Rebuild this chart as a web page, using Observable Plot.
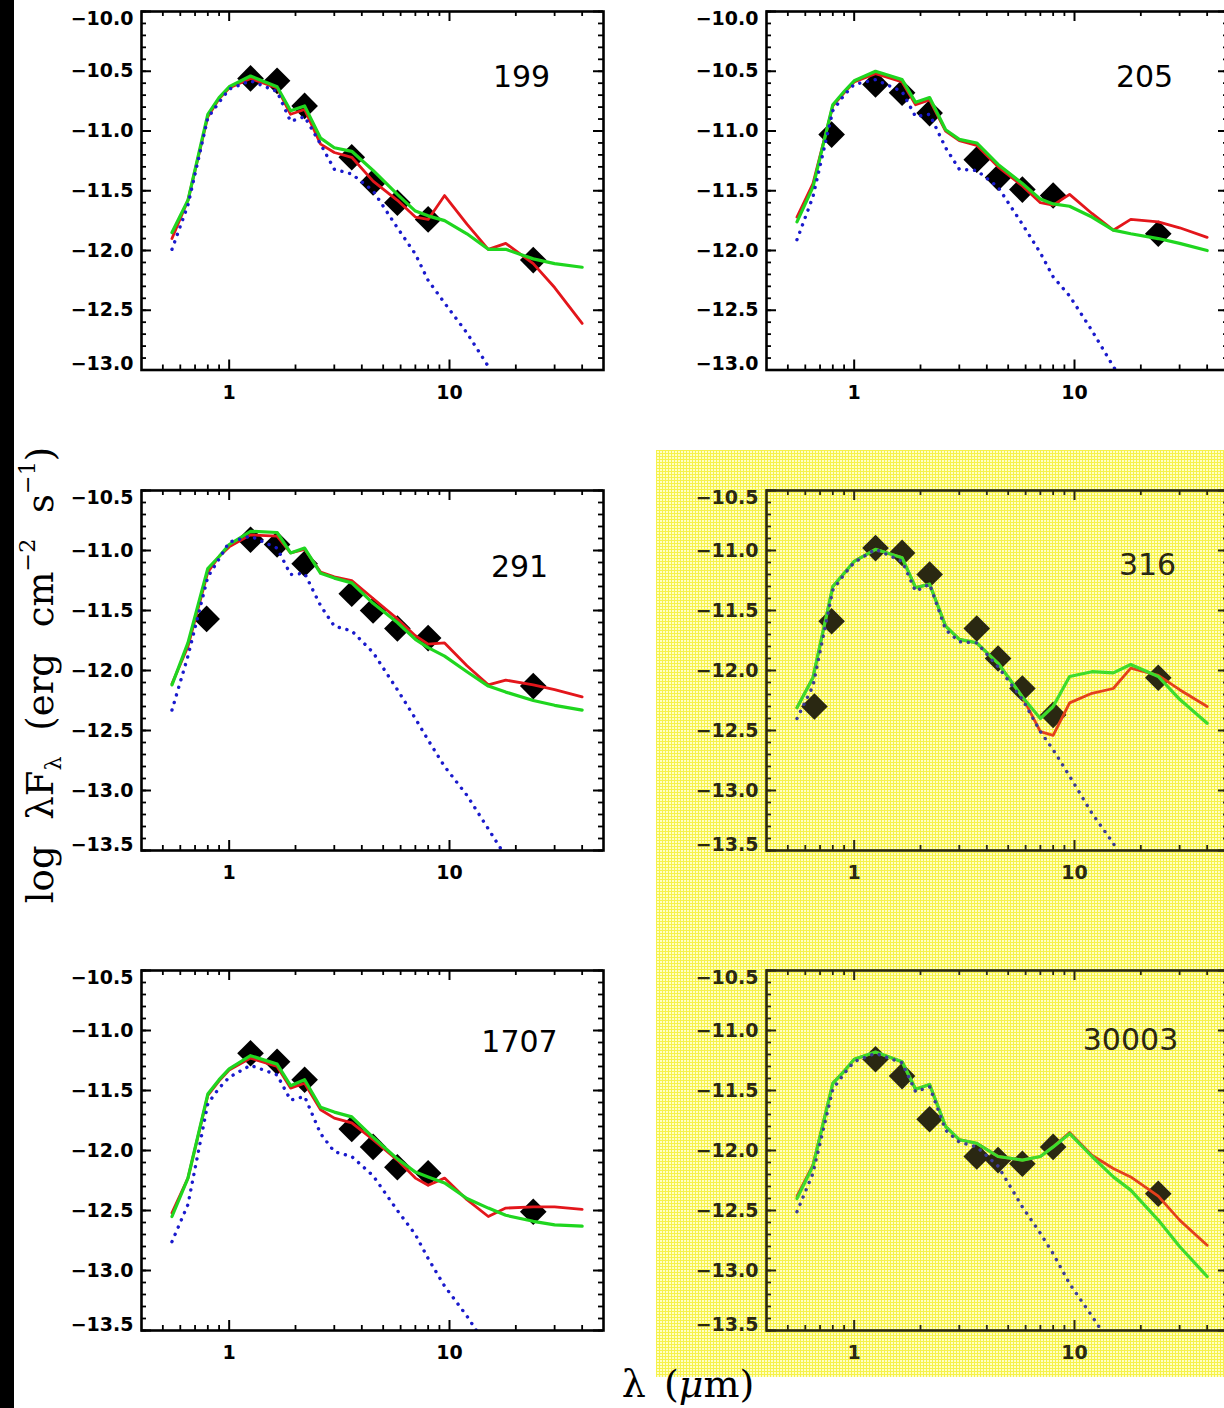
<!DOCTYPE html>
<html><head><meta charset="utf-8">
<script src="https://cdn.jsdelivr.net/npm/d3@7"></script>
<script src="https://cdn.jsdelivr.net/npm/@observablehq/plot@0.6"></script>
<style>
html,body{margin:0;padding:0;background:#fff;}
#fig{position:relative;width:1224px;height:1408px;overflow:hidden;background:#fff;}
.strip{position:absolute;left:0;top:0;width:14px;height:1408px;background:#000;}
.yellow{position:absolute;left:656px;top:450px;width:568px;height:927px;background-color:#ffffc4;
 background-image:linear-gradient(#f6f24a 1px,transparent 1px),linear-gradient(90deg,#f6f24a 1px,transparent 1px);
 background-size:3px 3px;}
.panel{position:absolute;}
.panel svg{max-width:none;display:block;}
.ytitle{position:absolute;left:40px;top:675px;transform:translate(-50%,-50%) rotate(-90deg);
 font-family:"DejaVu Serif",serif;font-size:37px;white-space:nowrap;word-spacing:14px;line-height:1;color:#000;}
.ytitle sub,.ytitle sup{font-size:0.6em;line-height:0;}
.ytitle sub{vertical-align:-0.4em;}
.ytitle sup{vertical-align:0.8em;}
.xtitle{position:absolute;left:688px;top:1385px;transform:translate(-50%,-50%);
 font-family:"DejaVu Serif",serif;font-size:38px;white-space:nowrap;word-spacing:6px;line-height:1.05;color:#000;}
</style></head>
<body>
<div id="fig"><div class="strip"></div><div class="yellow"></div>
<div class="ytitle">log λF<sub>λ</sub> (erg cm<sup>−2</sup> s<sup>−1</sup>)</div>
<div class="xtitle">λ (<i>μ</i>m)</div>
</div>
<script>
// ---------- data ----------
const modelLam = [0.55, 0.65, 0.8, 0.9, 1.0, 1.25, 1.65, 1.9, 2.2, 2.6, 3.0, 3.6, 4.5, 5.8, 7.0, 8.0, 9.5, 12, 15, 18, 24, 30, 40];
const bandLam  = [0.66, 0.79, 1.25, 1.65, 2.2, 3.6, 4.5, 5.8, 8.0, 24];

const obs199   = [null, null, -10.56, -10.58, -10.79, -11.22, -11.43, -11.60, -11.74, -12.08];
const red199   = [-11.90, -11.58, -10.88, -10.73, -10.64, -10.56, -10.64, -10.86, -10.82, -11.11, -11.18, -11.22, -11.42, -11.58, -11.72, -11.74, -11.54, -11.78, -11.99, -11.94, -12.11, -12.31, -12.61];
const green199 = [-11.85, -11.58, -10.86, -10.72, -10.63, -10.54, -10.63, -10.83, -10.79, -11.06, -11.14, -11.17, -11.33, -11.53, -11.67, -11.71, -11.75, -11.86, -11.99, -11.99, -12.07, -12.11, -12.14];
const star199  = [-11.99, -11.62, -10.89, -10.76, -10.65, -10.58, -10.67, -10.92, -10.88, -11.11, -11.32, -11.36, -11.50, -11.81, -12.03, -12.25, -12.44, -12.69, -12.97, -13.20, -13.60, -13.90, -14.30];

const obs205   = [null, -11.03, -10.61, -10.68, -10.85, -11.24, -11.39, -11.49, -11.54, -11.86];
const red205   = [-11.72, -11.44, -10.79, -10.68, -10.59, -10.52, -10.59, -10.78, -10.74, -11.00, -11.08, -11.12, -11.30, -11.46, -11.60, -11.62, -11.53, -11.69, -11.83, -11.74, -11.76, -11.81, -11.89];
const green205 = [-11.76, -11.47, -10.78, -10.67, -10.58, -10.50, -10.57, -10.76, -10.72, -10.99, -11.07, -11.10, -11.28, -11.44, -11.57, -11.61, -11.63, -11.72, -11.83, -11.86, -11.90, -11.94, -12.00];
const star205  = [-11.91, -11.55, -10.83, -10.70, -10.61, -10.57, -10.67, -10.88, -10.86, -11.14, -11.32, -11.33, -11.47, -11.78, -12.02, -12.22, -12.38, -12.67, -12.97, -13.20, -13.60, -13.90, -14.30];

const obs291   = [null, -11.57, -10.91, -10.95, -11.11, -11.36, -11.50, -11.65, -11.73, -12.13];
const red291   = [-12.11, -11.80, -11.18, -11.05, -10.97, -10.87, -10.88, -11.02, -10.99, -11.18, -11.22, -11.25, -11.40, -11.57, -11.71, -11.78, -11.77, -11.96, -12.12, -12.08, -12.12, -12.16, -12.22];
const green291 = [-12.12, -11.77, -11.15, -11.05, -10.95, -10.84, -10.85, -11.02, -10.98, -11.19, -11.23, -11.27, -11.44, -11.60, -11.74, -11.81, -11.88, -12.01, -12.13, -12.18, -12.25, -12.29, -12.33];
const star291  = [-12.33, -11.88, -11.22, -11.07, -10.93, -10.88, -10.98, -11.20, -11.19, -11.46, -11.63, -11.67, -11.85, -12.16, -12.40, -12.58, -12.80, -13.04, -13.32, -13.55, -13.90, -14.20, -14.60];

const obs316   = [-12.30, -11.59, -10.98, -11.02, -11.20, -11.65, -11.90, -12.15, -12.37, -12.06];
const red316   = [-12.31, -12.06, -11.30, -11.19, -11.09, -10.99, -11.06, -11.31, -11.28, -11.63, -11.74, -11.77, -11.94, -12.22, -12.51, -12.54, -12.27, -12.19, -12.15, -11.98, -12.04, -12.16, -12.30];
const green316 = [-12.31, -12.06, -11.30, -11.19, -11.09, -10.99, -11.06, -11.31, -11.28, -11.63, -11.74, -11.77, -11.94, -12.22, -12.40, -12.30, -12.05, -12.01, -12.02, -11.95, -12.05, -12.24, -12.44];
const star316  = [-12.40, -12.13, -11.33, -11.20, -11.10, -10.99, -11.09, -11.34, -11.28, -11.66, -11.76, -11.77, -11.97, -12.24, -12.51, -12.66, -12.88, -13.19, -13.44, -13.70, -14.05, -14.35, -14.70];

const obs1707   = [null, null, -11.19, -11.26, -11.41, -11.82, -11.97, -12.14, -12.19, -12.51];
const red1707   = [-12.52, -12.23, -11.54, -11.42, -11.33, -11.23, -11.30, -11.48, -11.44, -11.66, -11.73, -11.77, -11.91, -12.08, -12.23, -12.29, -12.23, -12.41, -12.55, -12.48, -12.47, -12.47, -12.49];
const green1707 = [-12.55, -12.23, -11.53, -11.41, -11.32, -11.21, -11.28, -11.46, -11.41, -11.64, -11.68, -11.72, -11.89, -12.07, -12.18, -12.22, -12.27, -12.40, -12.48, -12.54, -12.59, -12.62, -12.63];
const star1707  = [-12.76, -12.45, -11.61, -11.48, -11.39, -11.29, -11.37, -11.58, -11.55, -11.86, -12.01, -12.05, -12.21, -12.50, -12.70, -12.90, -13.13, -13.38, -13.65, -13.90, -14.25, -14.55, -14.90];

const obs30003   = [null, null, -11.24, -11.38, -11.74, -12.05, -12.08, -12.11, -11.97, -12.36];
const red30003   = [-12.38, -12.12, -11.44, -11.34, -11.24, -11.18, -11.26, -11.49, -11.45, -11.80, -11.91, -11.94, -12.05, -12.08, -12.05, -11.97, -11.85, -12.04, -12.15, -12.22, -12.38, -12.58, -12.79];
const green30003 = [-12.40, -12.13, -11.44, -11.34, -11.24, -11.18, -11.26, -11.49, -11.45, -11.80, -11.91, -11.94, -12.05, -12.08, -12.05, -11.97, -11.86, -12.05, -12.22, -12.33, -12.58, -12.80, -13.05];
const star30003  = [-12.51, -12.19, -11.49, -11.36, -11.26, -11.19, -11.27, -11.51, -11.47, -11.83, -11.93, -11.97, -12.13, -12.47, -12.69, -12.86, -13.11, -13.38, -13.65, -13.90, -14.25, -14.55, -14.90];

const panelNames = ["199", "205", "291", "316", "1707", "30003"];
const xTickLabels = [1, 10];
const xMinorTicks = [0.5, 0.6, 0.7, 0.8, 0.9, 2, 3, 4, 5, 6, 7, 8, 9, 20, 30, 40];
const yTicksTopRow = [-10.0, -10.5, -11.0, -11.5, -12.0, -12.5, -13.0];
const yTicksLowerRows = [-10.5, -11.0, -11.5, -12.0, -12.5, -13.0, -13.5];

// ---------- layout ----------
const panels = [
  {name: panelNames[0], obs: obs199, red: red199, green: green199, star: star199, col: 0, row: 0, lx: 380, ly: 66},
  {name: panelNames[1], obs: obs205, red: red205, green: green205, star: star205, col: 1, row: 0, lx: 378, ly: 66},
  {name: panelNames[2], obs: obs291, red: red291, green: green291, star: star291, col: 0, row: 1, lx: 378, ly: 77},
  {name: panelNames[3], obs: obs316, red: red316, green: green316, star: star316, col: 1, row: 1, lx: 381, ly: 75},
  {name: panelNames[4], obs: obs1707, red: red1707, green: green1707, star: star1707, col: 0, row: 2, lx: 378, ly: 72},
  {name: panelNames[5], obs: obs30003, red: red30003, green: green30003, star: star30003, col: 1, row: 2, lx: 364, ly: 70}
];

const fig = document.getElementById("fig");
const frameLefts = [141, 766];
const frameTops = [10.7, 490, 970];
const frameW = 462;
const mL = 80, mR = 12, mT = 12, mB = 45;
const fmt = d3.format(".1f");

for (const p of panels) {
  const frameH = p.row === 0 ? 358.5 : 360;
  const yellow = p.col === 1 && p.row > 0;
  const ink = yellow ? "#2a2812" : "#000";
  const cRed = yellow ? "#e4401c" : "#e3161b";
  const cGreen = yellow ? "#3ddc2c" : "#1fd61f";
  const cBlue = yellow ? "#3c3c96" : "#1a1acc";
  const yTicks = p.row === 0 ? yTicksTopRow : yTicksLowerRows;
  const yDom = [yTicks[yTicks.length - 1], yTicks[0]];
  const yMinor = d3.range(Math.round(yDom[0] * 10), Math.round(yDom[1] * 10) + 1).map(d => d / 10);

  const model = modelLam.map((lam, i) => ({lam, red: p.red[i], green: p.green[i], star: p.star[i]}));
  const pts = bandLam.map((lam, i) => ({lam, flux: p.obs[i]})).filter(d => d.flux != null);

  const textOpts = {fontFamily: "DejaVu Sans", fontSize: 19, fontWeight: "bold", fill: ink};

  const chart = Plot.plot({
    width: mL + frameW + mR,
    height: mT + frameH + mB,
    marginLeft: mL, marginRight: mR, marginTop: mT, marginBottom: mB,
    x: {type: "log", domain: [0.4, 50]},
    y: {domain: yDom},
    style: {background: "transparent", overflow: "visible", fontFamily: "DejaVu Sans"},
    marks: [
      Plot.dot(pts, {x: "lam", y: "flux", symbol: "diamond2", r: 12, fill: ink, stroke: "none"}),
      Plot.line(model, {x: "lam", y: "red", stroke: cRed, strokeWidth: 2.8, clip: true}),
      Plot.line(model, {x: "lam", y: "green", stroke: cGreen, strokeWidth: 3.2, clip: true}),
      Plot.line(model, {x: "lam", y: "star", stroke: cBlue, strokeWidth: 3.4, strokeDasharray: "0.1 7.8", strokeLinecap: "round", clip: true}),
      // ticks pointing inward on all four sides
      Plot.tickX(xTickLabels, {x: d => d, insetTop: frameH - 10, stroke: ink, strokeWidth: 2}),
      Plot.tickX(xTickLabels, {x: d => d, insetBottom: frameH - 10, stroke: ink, strokeWidth: 2}),
      Plot.tickX(xMinorTicks, {x: d => d, insetTop: frameH - 5, stroke: ink, strokeWidth: 1.8}),
      Plot.tickX(xMinorTicks, {x: d => d, insetBottom: frameH - 5, stroke: ink, strokeWidth: 1.8}),
      Plot.tickY(yTicks, {y: d => d, insetRight: frameW - 10, stroke: ink, strokeWidth: 2}),
      Plot.tickY(yTicks, {y: d => d, insetLeft: frameW - 10, stroke: ink, strokeWidth: 2}),
      Plot.tickY(yMinor, {y: d => d, insetRight: frameW - 5, stroke: ink, strokeWidth: 1.8}),
      Plot.tickY(yMinor, {y: d => d, insetLeft: frameW - 5, stroke: ink, strokeWidth: 1.8}),
      Plot.frame({stroke: ink, strokeWidth: 2.6}),
      // tick labels
      Plot.axisY(yTicks.slice(1, -1), {tickSize: 0, tickPadding: 8, tickFormat: fmt, label: null, ...textOpts}),
      Plot.axisY([yTicks[0]], {tickSize: 0, tickPadding: 8, tickFormat: fmt, label: null, dy: 7, ...textOpts}),
      Plot.axisY([yTicks[yTicks.length - 1]], {tickSize: 0, tickPadding: 8, tickFormat: fmt, label: null, dy: -6, ...textOpts}),
      Plot.axisX(xTickLabels, {tickSize: 0, tickPadding: 15, tickFormat: d => String(d), label: null, ...textOpts}),
      // panel label
      Plot.text([p.name], {frameAnchor: "top-left", text: d => d, dx: p.lx, dy: p.ly, textAnchor: "middle", lineAnchor: "middle",
        fontFamily: "DejaVu Sans", fontSize: 30, fontWeight: "normal", fill: ink})
    ]
  });

  const div = document.createElement("div");
  div.className = "panel";
  div.style.left = (frameLefts[p.col] - mL) + "px";
  div.style.top = (frameTops[p.row] - mT) + "px";
  div.style.width = (mL + frameW + mR) + "px";
  div.appendChild(chart);
  fig.appendChild(div);
}
</script>
</body></html>
